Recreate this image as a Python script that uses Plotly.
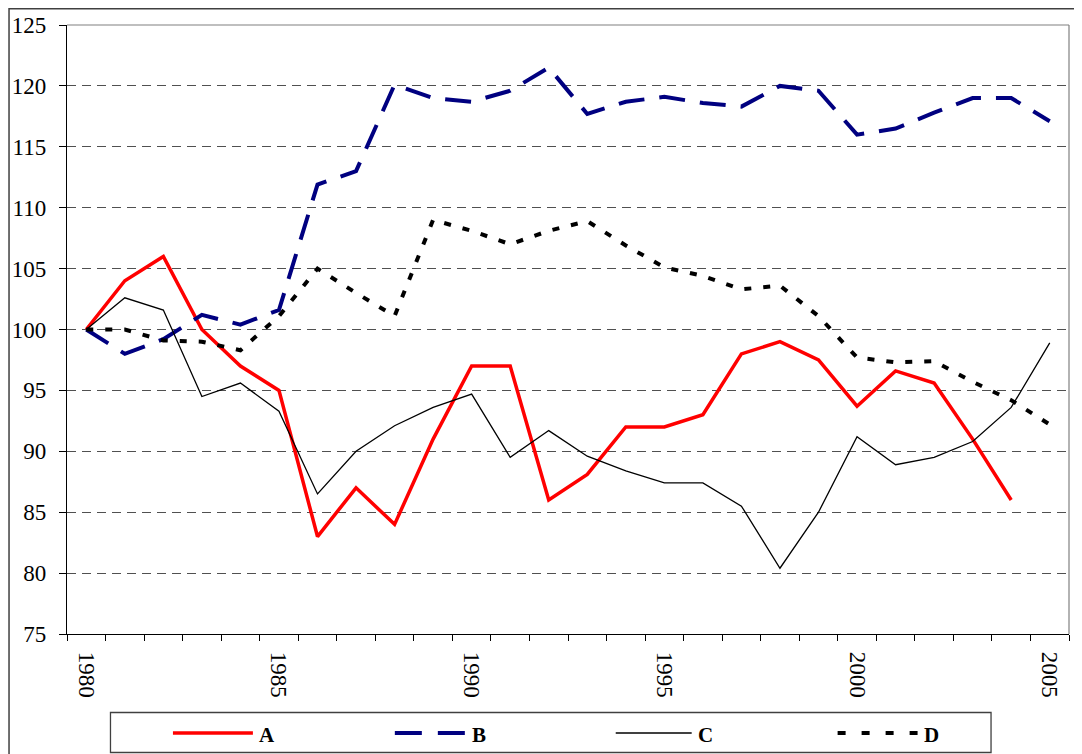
import plotly.graph_objects as go

years = list(range(1980, 2006))
series_a = [100, 104, 106, 100, 97, 95, 83, 87, 84, 91, 97, 97, 86, 88.1, 92, 92, 93, 98,
            99, 97.5, 93.7, 96.6, 95.6, 91, 86, None]
series_b = [100, 98, 99.2, 101.2, 100.4, 101.6, 111.9, 113, 120.1, 119, 118.7, 119.6, 121.5,
            117.7, 118.7, 119.1, 118.6, 118.3, 120, 119.6, 116, 116.5, 117.8, 119, 119, 117.1]
series_c = [100, 102.6, 101.6, 94.5, 95.6, 93.3, 86.5, 90, 92.1, 93.6, 94.7, 89.5, 91.7,
            89.6, 88.4, 87.4, 87.4, 85.5, 80.4, 85, 91.2, 88.9, 89.5, 90.8, 93.6, 98.9]
series_d = [100, 100, 99.1, 99, 98.3, 101.1, 105, 103, 101.1, 109, 108.1, 107, 108.1, 108.9,
            106.9, 105.1, 104.4, 103.3, 103.6, 101.1, 97.7, 97.3, 97.4, 95.7, 94.2, 92.2]
names = ["A", "B", "C", "D"]
x_labels = [1980, 1985, 1990, 1995, 2000, 2005]
y_ticks = list(range(75, 130, 5))

styles = [
    dict(color="#FF0000", width=3.5, dash="solid"),
    dict(color="#000080", width=4, dash="26px,15px"),
    dict(color="#000000", width=1.3, dash="solid"),
    dict(color="#000000", width=4, dash="7px,12px"),
]

fig = go.Figure()
for name, vals, st in zip(names, [series_a, series_b, series_c, series_d], styles):
    fig.add_trace(go.Scatter(x=years, y=vals, mode="lines", name=name, line=st,
                             showlegend=False, connectgaps=False))

# the page body has an 8px margin; work in reference pixel coordinates and shift
OFF = 8
W, H = 1082 - OFF, 754 - OFF
L = 67 - OFF
T = 25 - OFF
R = W - (1069.5 - OFF)
B = H - (634 - OFF)
pw, ph = W - L - R, H - T - B


def px(x):
    return (x - OFF - L) / pw


def py(y):
    return (H - B - (y - OFF)) / ph


shapes = []
# plot area border (top/right)
shapes.append(dict(type="line", xref="paper", yref="paper", x0=0, x1=1, y0=1, y1=1,
                   line=dict(color="#808080", width=1.2)))
shapes.append(dict(type="line", xref="paper", yref="paper", x0=1, x1=1, y0=0, y1=1,
                   line=dict(color="#808080", width=1.2)))
# outer chart border
shapes.append(dict(type="rect", xref="paper", yref="paper", x0=px(9), x1=px(1100),
                   y0=py(OFF + 0.8), y1=py(800), line=dict(color="#404040", width=1.5)))
# legend box
shapes.append(dict(type="rect", xref="paper", yref="paper", x0=px(110.5), x1=px(991.5),
                   y0=py(712.5), y1=py(752.5), line=dict(color="#404040", width=1.3),
                   fillcolor="white"))
leg_y = 733
leg_x = [(173, 253), (395, 466), (616, 692), (838, 918)]
leg_dash = ["solid", "27px,16px", "solid", "8px,16px"]
annotations = []
for (x0, x1), st, dsh, name in zip(leg_x, styles, leg_dash, names):
    shapes.append(dict(type="line", xref="paper", yref="paper", x0=px(x0), x1=px(x1),
                       y0=py(leg_y), y1=py(leg_y),
                       line=dict(color=st["color"], width=min(st["width"], 4), dash=dsh)))
    annotations.append(dict(xref="paper", yref="paper", x=px(x1 + 4), y=py(leg_y + 2),
                            text="<b>%s</b>" % name, showarrow=False, xanchor="left",
                            yanchor="middle",
                            font=dict(family="Liberation Serif", size=21, color="black")))

fig.update_layout(
    width=W, height=H,
    margin=dict(l=L, r=R, t=T, b=B, autoexpand=False),
    paper_bgcolor="white", plot_bgcolor="white",
    font=dict(family="Liberation Serif", size=23, color="black"),
    shapes=shapes, annotations=annotations,
    xaxis=dict(
        range=[1979.5, 2005.5], tickmode="array", tickvals=x_labels,
        ticktext=[str(v) for v in x_labels], tickangle=90, ticks="",
        ticklabelstandoff=12,
        showgrid=False, zeroline=False, showline=True, linecolor="black", linewidth=1.3,
        tickfont=dict(family="Liberation Serif", size=23),
        minor=dict(tick0=1979.5, dtick=1, ticks="outside", ticklen=6, tickcolor="black",
                   tickwidth=1, showgrid=False),
        fixedrange=True,
    ),
    yaxis=dict(
        range=[75, 125], tickmode="array", tickvals=y_ticks, ticks="outside", ticklen=7,
        tickcolor="black", tickwidth=1, showgrid=True, gridcolor="#505050", gridwidth=1,
        griddash="9px,6px", zeroline=False, showline=True, linecolor="black", linewidth=1.3,
        ticklabelstandoff=8,
        tickfont=dict(family="Liberation Serif", size=23), fixedrange=True,
    ),
)

fig.write_html("out.html")
